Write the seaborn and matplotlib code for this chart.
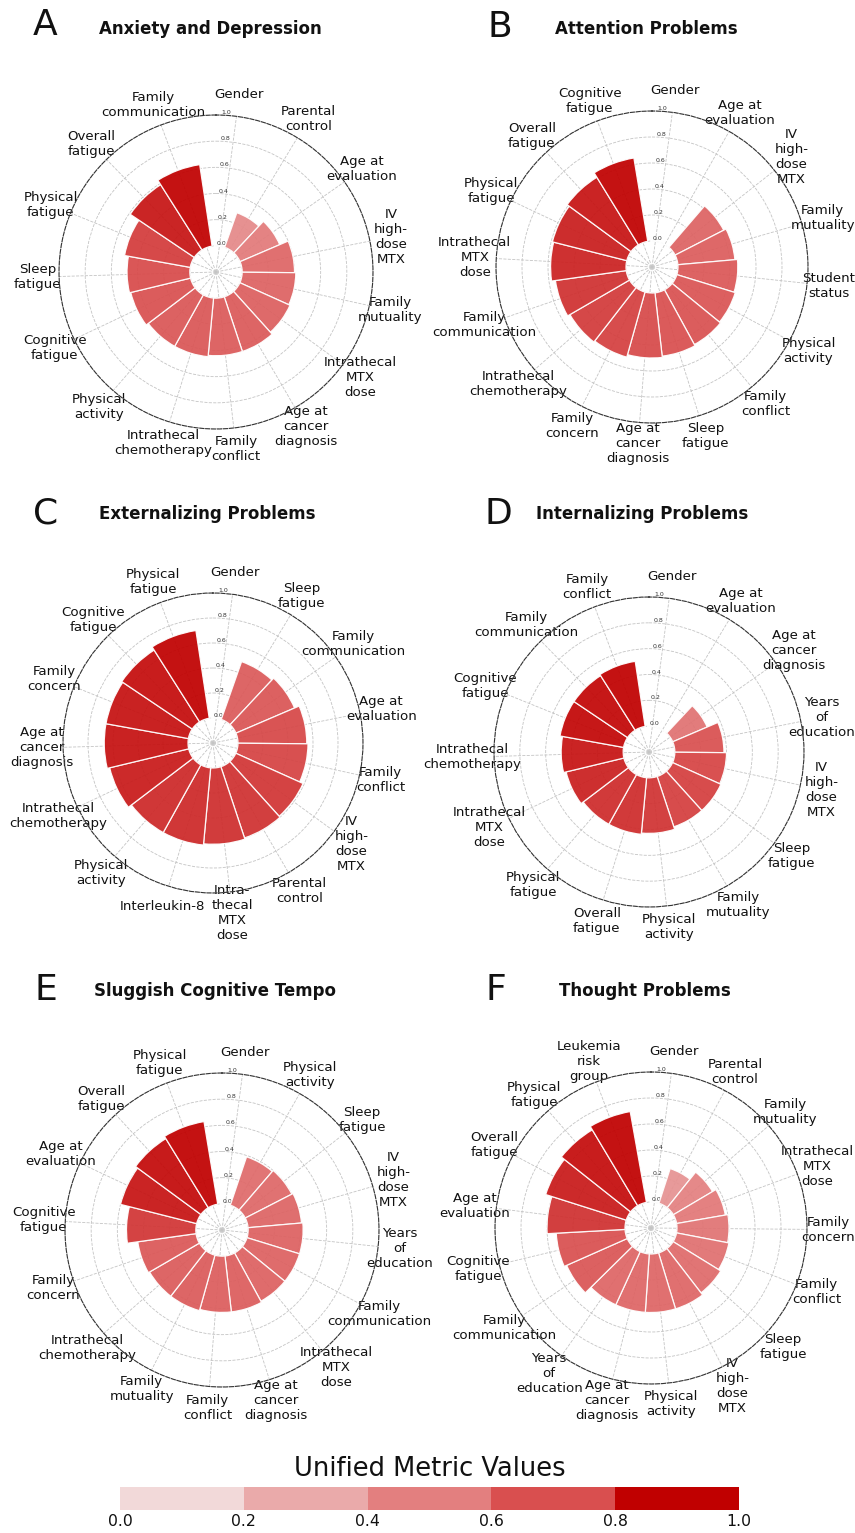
import textwrap
import numpy as np
import matplotlib
matplotlib.use("Agg")
import matplotlib.pyplot as plt
import seaborn as sns
from matplotlib.colors import ListedColormap, BoundaryNorm
from matplotlib.cm import ScalarMappable

sns.set_theme(style="white")
plt.rcParams['font.family'] = ['DejaVu Sans']
plt.rcParams['text.color'] = '#111111'
plt.rcParams['xtick.color'] = '#111111'
plt.rcParams['ytick.color'] = '#111111'

# ---------------- data ----------------
a_labels = ["Gender", "Parental control", "Age at evaluation", "IV high-dose MTX",
            "Family mutuality", "Intrathecal MTX dose", "Age at cancer diagnosis",
            "Family conflict", "Intrathecal chemotherapy", "Physical activity",
            "Cognitive fatigue", "Sleep fatigue", "Physical fatigue",
            "Overall fatigue", "Family communication"]
a_values = [0.0, 0.28, 0.33, 0.40, 0.41, 0.42, 0.44, 0.44, 0.45, 0.45, 0.47,
            0.48, 0.51, 0.59, 0.63]

b_labels = ["Gender", "Age at evaluation", "IV high-dose MTX", "Family mutuality",
            "Student status", "Physical activity", "Family conflict", "Sleep fatigue",
            "Age at cancer diagnosis", "Family concern", "Intrathecal chemotherapy",
            "Family communication", "Intrathecal MTX dose", "Physical fatigue",
            "Overall fatigue", "Cognitive fatigue"]
b_values = [0.0, 0.0, 0.42, 0.44, 0.46, 0.47, 0.48, 0.49, 0.50, 0.52, 0.53,
            0.55, 0.58, 0.59, 0.61, 0.65]

c_labels = ["Gender", "Sleep fatigue", "Family communication", "Age at evaluation",
            "Family conflict", "IV high-dose MTX", "Parental control",
            "Intra-thecal MTX dose", "Interleukin-8", "Physical activity",
            "Intrathecal chemotherapy", "Age at cancer diagnosis", "Family concern",
            "Cognitive fatigue", "Physical fatigue"]
c_values = [0.0, 0.49, 0.51, 0.55, 0.56, 0.59, 0.60, 0.61, 0.62, 0.62, 0.65,
            0.67, 0.67, 0.68, 0.71]

d_labels = ["Gender", "Age at evaluation", "Age at cancer diagnosis",
            "Years of education", "IV high-dose MTX", "Sleep fatigue",
            "Family mutuality", "Physical activity", "Overall fatigue",
            "Physical fatigue", "Intrathecal MTX dose", "Intrathecal chemotherapy",
            "Cognitive fatigue", "Family communication", "Family conflict"]
d_values = [0.0, 0.0, 0.29, 0.38, 0.40, 0.41, 0.41, 0.43, 0.44, 0.44, 0.46,
            0.48, 0.50, 0.50, 0.51]

e_labels = ["Gender", "Physical activity", "Sleep fatigue", "IV high-dose MTX",
            "Years of education", "Family communication", "Intrathecal MTX dose",
            "Age at cancer diagnosis", "Family conflict", "Family mutuality",
            "Intrathecal chemotherapy", "Family concern", "Cognitive fatigue",
            "Age at evaluation", "Overall fatigue", "Physical fatigue"]
e_values = [0.0, 0.39, 0.40, 0.41, 0.42, 0.42, 0.42, 0.43, 0.43, 0.44, 0.44,
            0.45, 0.53, 0.60, 0.62, 0.64]

f_labels = ["Gender", "Parental control", "Family mutuality", "Intrathecal MTX dose",
            "Family concern", "Family conflict", "Sleep fatigue", "IV high-dose MTX",
            "Physical activity", "Age at cancer diagnosis", "Years of education",
            "Family communication", "Cognitive fatigue", "Age at evaluation",
            "Overall fatigue", "Physical fatigue", "Leukemia risk group"]
f_values = [0.0, 0.28, 0.35, 0.38, 0.40, 0.41, 0.43, 0.45, 0.45, 0.45, 0.45,
            0.51, 0.53, 0.60, 0.65, 0.68, 0.71]

panel_letters = ["A", "B", "C", "D", "E", "F"]
panel_titles = ["Anxiety and Depression", "Attention Problems", "Externalizing Problems",
                "Internalizing Problems", "Sluggish Cognitive Tempo", "Thought Problems"]

r_ticks = [0.0, 0.2, 0.4, 0.6, 0.8, 1.0]
cbar_colors = ["#f2d9d9", "#eaaaaa", "#e37f7f", "#d94f4f", "#c00000"]
cbar_bounds = [0.0, 0.2, 0.4, 0.6, 0.8, 1.0]
cbar_title = "Unified Metric Values"

# ---------------- layout (pixels) ----------------
W, H = 855, 1533
fig = plt.figure(figsize=(W / 100, H / 100), dpi=100)

geoms = [(216, 272, 157), (652, 267, 156), (213, 743, 150),
         (649, 752, 155), (222, 1230, 157), (651, 1228, 156)]
letter_pos = [(45, 25), (500, 27), (46, 513), (498, 514), (46, 990), (496, 990)]
title_pos = [(210, 29), (646, 29), (207, 514), (642, 514), (215, 991), (645, 991)]

bar_cmap = sns.blend_palette(cbar_colors, as_cmap=True)

panels = [(a_labels, a_values), (b_labels, b_values), (c_labels, c_values),
          (d_labels, d_values), (e_labels, e_values), (f_labels, f_values)]

for i, (labels, values) in enumerate(panels):
    cx, cy, R = geoms[i]
    ax = fig.add_axes([(cx - R) / W, 1 - (cy + R) / H, 2 * R / W, 2 * R / H],
                      projection="polar")
    n = len(labels)
    angles = np.deg2rad(np.linspace(7.5, 339.5, n))
    width = angles[1] - angles[0]
    ax.set_theta_direction(-1)
    ax.set_theta_zero_location("N")
    vals = np.asarray(values)
    colors = bar_cmap(vals / vals.max())
    ax.bar(angles, vals, width=width, bottom=0.0, color=colors, alpha=0.93,
           edgecolor="white", linewidth=0.9, zorder=2)
    ax.set_ylim(-0.2, 1.0)
    ax.set_yticks(r_ticks)
    ax.set_yticklabels([f"{t:.1f}" for t in r_ticks], fontsize=4.5, color="#333333")
    ax.set_rlabel_position(2)
    ax.set_xticks(angles)
    ax.set_xticklabels([textwrap.fill(l, 7, break_long_words=False) for l in labels],
                       fontsize=9.6)
    ax.tick_params(axis="x", pad=2.5)
    ax.grid(True, color="#c4c4c4", linestyle="--", linewidth=0.6)
    ax.set_axisbelow(True)
    ax.spines["polar"].set_linestyle("--")
    ax.spines["polar"].set_color("#333333")
    ax.spines["polar"].set_linewidth(0.8)
    ax.set_facecolor("white")

    lx, ly = letter_pos[i]
    fig.text(lx / W, 1 - ly / H, panel_letters[i], fontsize=26, ha="center", va="center")
    tx, ty = title_pos[i]
    fig.text(tx / W, 1 - ty / H, panel_titles[i], fontsize=12, fontweight="bold",
             ha="center", va="center")

# ---------------- colorbar ----------------
cax = fig.add_axes([120 / W, 1 - 1510 / H, 619 / W, 23 / H])
cmap_d = ListedColormap(cbar_colors)
norm = BoundaryNorm(cbar_bounds, cmap_d.N)
cb = fig.colorbar(ScalarMappable(norm=norm, cmap=cmap_d), cax=cax,
                  orientation="horizontal", ticks=cbar_bounds)
cb.outline.set_visible(False)
cax.set_xticklabels([f"{b:.1f}" for b in cbar_bounds])
cax.tick_params(length=0, labelsize=11.3, pad=3)
cax.set_title(cbar_title, fontsize=18.5, pad=8)

fig.savefig("out.png", dpi=100, facecolor="white")
